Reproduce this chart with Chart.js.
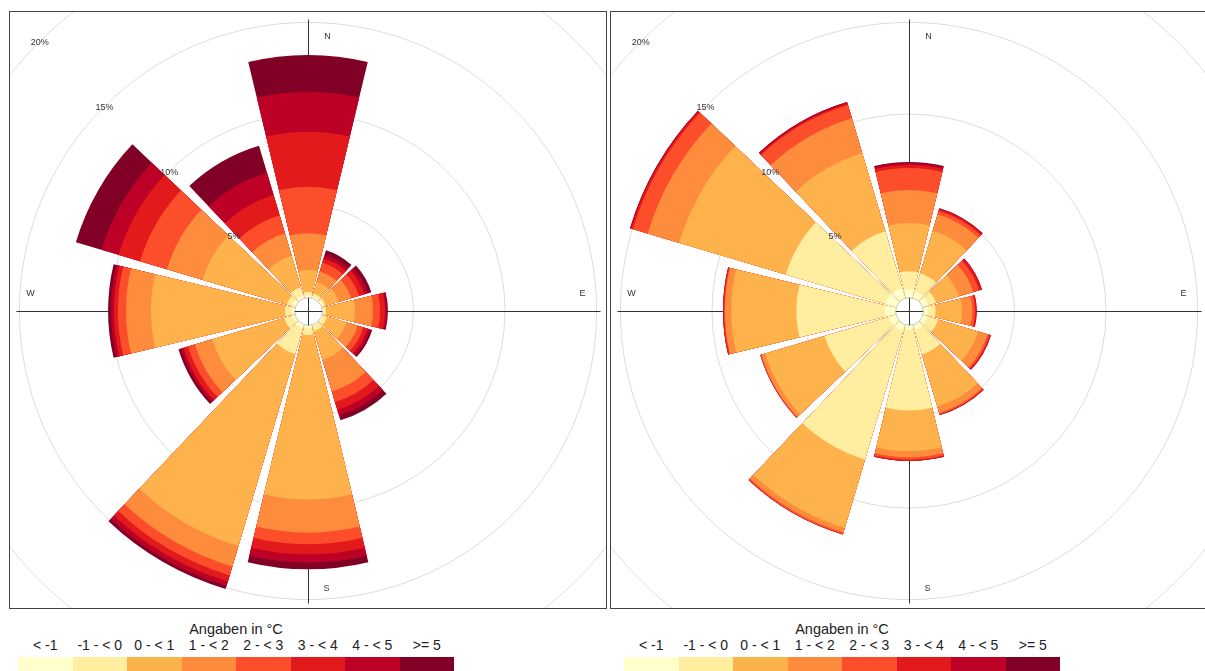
<!DOCTYPE html>
<html lang="de">
<head>
<meta charset="utf-8">
<title>Windrosen Temperatur</title>
<script src="https://cdn.jsdelivr.net/npm/chart.js@4.4.1/dist/chart.umd.min.js"></script>
<style>
  html, body { margin: 0; padding: 0; background: #fff; width: 1205px; height: 671px; overflow: hidden; font-family: "Liberation Sans", Arial, sans-serif; }
  .box { position: absolute; border: 1px solid #444; background: #fff; }
  .box canvas { display: block; }
  .legende { position: absolute; width: 436px; color: #222; }
  .legende .titel { position: absolute; top: 0; left: 0; right: 0; text-align: center; font-size: 14.5px; line-height: 16px; }
  .legende .labels { position: absolute; top: 16px; left: 0; right: 0; display: flex; font-size: 14px; line-height: 16px; }
  .legende .labels span { flex: 1; text-align: center; white-space: nowrap; }
  .legende .balken { position: absolute; top: 36px; left: 0; right: 0; height: 14px; display: flex; }
  .legende .balken div { flex: 1; }
</style>
</head>
<body>
<div class="box" style="left:9px; top:11px; width:596px; height:596px;"><canvas id="roseLinks" width="596" height="596"></canvas></div>
<div class="box" style="left:610px; top:11px; width:600px; height:596px;"><canvas id="roseRechts" width="596" height="596"></canvas></div>
<div class="legende" id="legendeLinks" style="left:18px; top:621px;"></div>
<div class="legende" id="legendeRechts" style="left:624px; top:621px;"></div>

<script>
// Richtungen (Sektormitte 0°, 30°, ... 330°)
const richtungen = ["N", "NNO", "ONO", "O", "OSO", "SSO", "S", "SSW", "WSW", "W", "WNW", "NNW"];
const klassen = ["< -1", "-1 - < 0", "0 - < 1", "1 - < 2", "2 - < 3", "3 - < 4", "4 - < 5", ">= 5"];
const farben = ["#FFFFCC", "#FFEDA0", "#FEB24C", "#FD8D3C", "#FC4E2A", "#E31A1C", "#BD0026", "#800026"];
const ringe = [5, 10, 15, 20];
const kompass = ["N", "E", "S", "W"];

// linke Windrose: Häufigkeit in % je Temperaturklasse und Richtung
const links1 = [0.10, 0.10, 0.10, 0.05, 0.10, 0.10, 0.17, 0.23, 0.15, 0.15, 0.15, 0.15];
const links2 = [0.18, 0.15, 0.15, 0.18, 0.24, 0.30, 0.39, 1.47, 0.45, 0.35, 0.30, 0.45];
const links3 = [1.20, 0.65, 0.75, 1.58, 1.09, 1.62, 8.97, 10.92, 4.10, 7.32, 4.80, 1.79];
const links4 = [2.01, 0.60, 0.70, 0.99, 0.65, 1.81, 1.82, 1.17, 0.99, 1.36, 2.02, 1.28];
const links5 = [2.54, 0.50, 0.45, 0.38, 0.32, 0.60, 0.63, 0.51, 0.38, 0.44, 1.54, 1.03];
const links6 = [3.00, 0.25, 0.30, 0.27, 0.23, 0.44, 0.55, 0.34, 0.26, 0.22, 1.22, 1.15];
const links7 = [2.19, 0.20, 0.20, 0.11, 0.17, 0.33, 0.46, 0.26, 0.15, 0.16, 0.97, 1.28];
const links8 = [2.00, 0.25, 0.20, 0.05, 0.10, 0.27, 0.36, 0.17, 0.14, 0.16, 1.46, 1.53];

// rechte Windrose
const rechts1 = [0.45, 0.35, 0.34, 0.30, 0.30, 0.35, 0.26, 0.40, 0.40, 0.57, 0.60, 0.55];
const rechts2 = [0.97, 1.04, 0.44, 0.40, 0.60, 1.37, 4.42, 7.30, 3.65, 4.83, 5.66, 3.24];
const rechts3 = [2.63, 2.42, 1.30, 1.44, 2.28, 2.97, 2.21, 3.88, 3.38, 3.55, 6.07, 4.44];
const rechts4 = [1.80, 0.94, 0.82, 0.56, 0.54, 0.36, 0.34, 0.28, 0.22, 0.34, 1.79, 1.99];
const rechts5 = [1.20, 0.20, 0.33, 0.15, 0.11, 0.07, 0.13, 0.08, 0.04, 0.05, 0.85, 0.76];
const rechts6 = [0.17, 0.10, 0.14, 0.07, 0.06, 0.05, 0.07, 0.03, 0.02, 0.06, 0.11, 0.08];
const rechts7 = [0.11, 0.04, 0.03, 0.02, 0.02, 0.00, 0.00, 0.00, 0.00, 0.00, 0.05, 0.09];
const rechts8 = [0.05, 0.00, 0.00, 0.00, 0.00, 0.00, 0.00, 0.00, 0.00, 0.00, 0.00, 0.00];

const PX_PRO_PROZENT = 18.32;  // Abstand der Ringe: 5 % = 91.6 px
const LOCH = 13.8;              // Radius des weißen Innenkreises
const SEKTOR = 27;              // 90 % von 30°
const LUECKE = 3;
const ACHSE = 292;

// Dekoration: Achsenkreuz, Himmelsrichtungen, Innenkreis, Ringbeschriftung
const deko = {
  id: "deko",
  beforeDatasetsDraw(chart) {
    const s = chart.scales.r;
    const ctx = chart.ctx;
    const cx = s.xCenter + 0.5, cy = s.yCenter + 0.5;
    ctx.save();
    ctx.strokeStyle = "#333";
    ctx.lineWidth = 1;
    ctx.beginPath();
    ctx.moveTo(cx - ACHSE, cy); ctx.lineTo(cx + ACHSE, cy);
    ctx.moveTo(cx, cy - ACHSE); ctx.lineTo(cx, cy + ACHSE);
    ctx.stroke();

    ctx.fillStyle = "#333";
    ctx.font = "9px 'Liberation Sans', Arial, sans-serif";
    ctx.textAlign = "center";
    ctx.textBaseline = "middle";
    ctx.fillText(kompass[0], cx + 19, cy - 275);
    ctx.fillText(kompass[1], cx + 274, cy - 18);
    ctx.fillText(kompass[2], cx + 18, cy + 277);
    ctx.fillText(kompass[3], cx - 278, cy - 18);
    ctx.restore();
  },
  afterDatasetsDraw(chart) {
    const s = chart.scales.r;
    const ctx = chart.ctx;
    const cx = s.xCenter + 0.5, cy = s.yCenter + 0.5;
    const r0 = s.getDistanceFromCenterForValue(0);
    ctx.save();
    ctx.beginPath();
    ctx.arc(cx, cy, r0, 0, Math.PI * 2);
    ctx.fillStyle = "#fff";
    ctx.fill();
    ctx.strokeStyle = "#c8c8c8";
    ctx.lineWidth = 1;
    ctx.stroke();
    ctx.strokeStyle = "#333";
    ctx.beginPath();
    ctx.moveTo(cx - r0, cy); ctx.lineTo(cx + r0, cy);
    ctx.moveTo(cx, cy - r0); ctx.lineTo(cx, cy + r0);
    ctx.stroke();

    // Ringbeschriftung liegt über den Sektoren
    ctx.fillStyle = "#333";
    ctx.font = "9px 'Liberation Sans', Arial, sans-serif";
    ctx.textAlign = "center";
    ctx.textBaseline = "middle";
    ringe.forEach(w => {
      const r = s.getDistanceFromCenterForValue(w);
      ctx.fillText(w + "%", cx - r * Math.SQRT1_2, cy - r * Math.SQRT1_2);
    });
    ctx.restore();
  }
};

function datensaetze(klassenWerte) {
  let summe = richtungen.map(() => 0);
  return klassenWerte.map((werte, k) => {
    summe = summe.map((v, i) => v + werte[i]);
    const daten = [];
    summe.forEach(v => { daten.push(v); daten.push(-5); });
    return {
      label: klassen[k],
      data: daten,
      backgroundColor: c => c.dataIndex % 2 ? "rgba(0,0,0,0)" : farben[k],
      borderWidth: 0,
      angle: c => c.dataIndex % 2 ? LUECKE : SEKTOR
    };
  });
}

function windrose(id, klassenWerte) {
  const ctx = document.getElementById(id).getContext("2d");
  new Chart(ctx, {
    type: "polarArea",
    data: {
      labels: richtungen.flatMap(r => [r, ""]),
      datasets: datensaetze(klassenWerte)
    },
    options: {
      responsive: false,
      animation: false,
      layout: { padding: { top: 2 } },
      plugins: { legend: { display: false }, tooltip: { enabled: false } },
      events: [],
      scales: {
        r: {
          startAngle: -SEKTOR / 2,
          min: -1,
          max: 16,
          bounds: "data",
          afterDataLimits: scale => {
            scale.min = -LOCH / PX_PRO_PROZENT;
            scale.max = scale.min + scale.drawingArea / PX_PRO_PROZENT;
          },
          afterBuildTicks: scale => {
            scale.ticks = ringe.map(v => ({ value: v }));
          },
          ticks: { display: false },
          grid: { color: "#dcdcdc", lineWidth: 1, circular: true },
          angleLines: { display: false },
          pointLabels: { display: false }
        }
      }
    },
    plugins: [deko]
  });
}

function legende(id) {
  const el = document.getElementById(id);
  let html = '<div class="titel">Angaben in °C</div><div class="labels">';
  klassen.forEach(k => { html += "<span>" + k.replace("<", "&lt;").replace(">", "&gt;") + "</span>"; });
  html += '</div><div class="balken">';
  farben.forEach(f => { html += '<div style="background:' + f + '"></div>'; });
  html += "</div>";
  el.innerHTML = html;
}

windrose("roseLinks", [links1, links2, links3, links4, links5, links6, links7, links8]);
windrose("roseRechts", [rechts1, rechts2, rechts3, rechts4, rechts5, rechts6, rechts7, rechts8]);
legende("legendeLinks");
legende("legendeRechts");
</script>
</body>
</html>
